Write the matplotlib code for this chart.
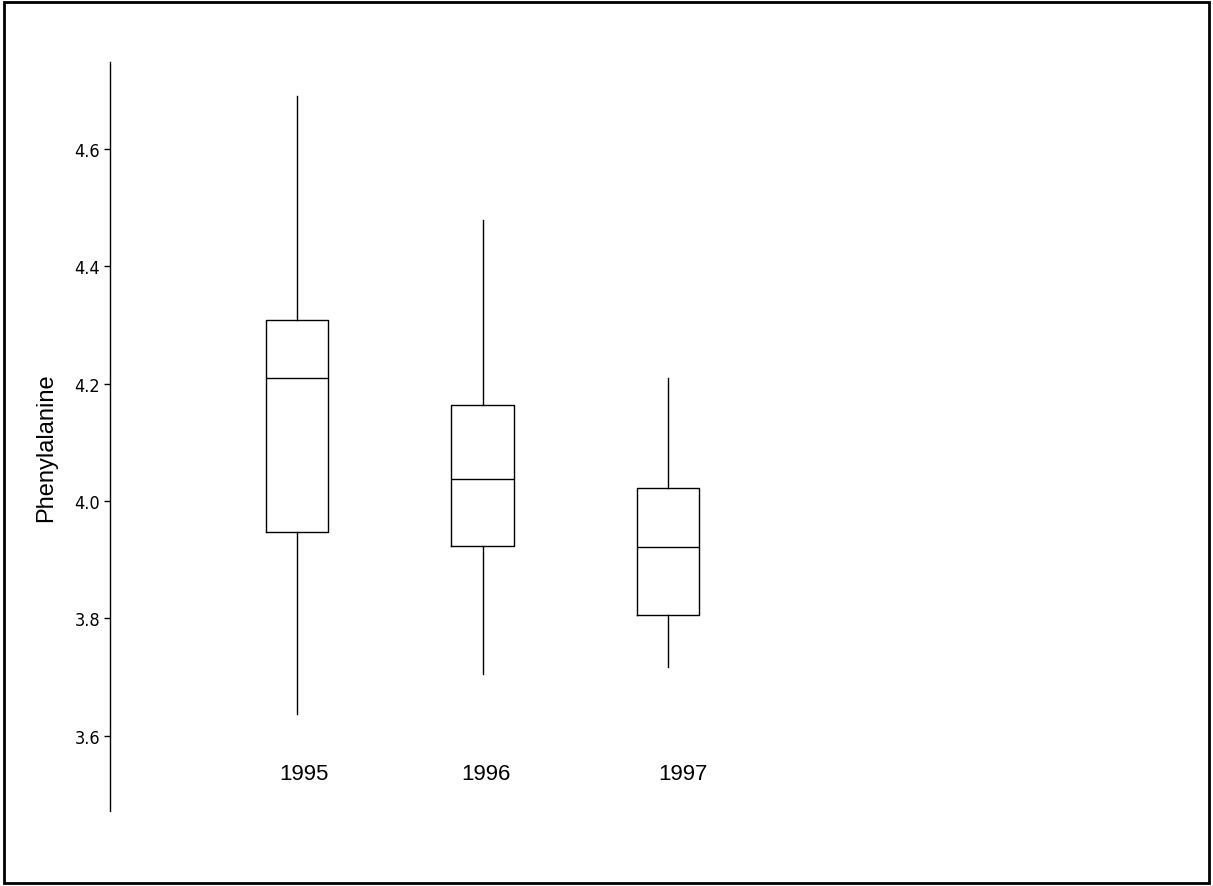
import matplotlib
matplotlib.use("Agg")
import matplotlib.pyplot as plt
from matplotlib.patches import Rectangle

years = ["1995", "1996", "1997"]
whisker_low = [3.638, 3.706, 3.717]
q1 = [3.948, 3.923, 3.805]
median = [4.209, 4.038, 3.921]
q3 = [4.309, 4.164, 4.023]
whisker_high = [4.690, 4.479, 4.210]
y_ticks = [3.6, 3.8, 4.0, 4.2, 4.4, 4.6]
y_tick_labels = ["3.6", "3.8", "4.0", "4.2", "4.4", "4.6"]

fig = plt.figure(figsize=(12.13, 8.87), dpi=100)
ax = fig.add_axes([0.0907, 0.0846, 0.82, 0.8444])

stats = []
for i, yr in enumerate(years):
    stats.append({
        "label": yr,
        "whislo": whisker_low[i],
        "q1": q1[i],
        "med": median[i],
        "q3": q3[i],
        "whishi": whisker_high[i],
        "fliers": [],
    })

positions = [1, 2, 3]
ax.bxp(stats, positions=positions, widths=0.335, showcaps=False, showfliers=False,
       boxprops=dict(color="black", linewidth=1.0),
       whiskerprops=dict(color="black", linewidth=1.0),
       medianprops=dict(color="black", linewidth=1.0))

# year labels sit inside the plot under the boxes
label_shift = [0.04, 0.02, 0.08]
for p, yr, s in zip(positions, years, label_shift):
    ax.text(p + s, 3.535, yr, ha="center", va="center", fontsize=16,
            family=["Liberation Sans", "DejaVu Sans"])

ax.set_xlim(-0.008, 5.354)
ax.set_ylim(3.472, 4.748)
ax.set_xticks([])
ax.set_yticks(y_ticks)
ax.set_yticklabels(y_tick_labels, family=["Liberation Sans Narrow", "DejaVu Sans"],
                   fontstretch="condensed", fontsize=13)
ax.tick_params(axis="y", length=4, width=1, pad=3)
for side in ["top", "right", "bottom"]:
    ax.spines[side].set_visible(False)
ax.spines["left"].set_linewidth(1.0)
ax.set_ylabel("Phenylalanine", fontsize=17, family=["Liberation Sans", "DejaVu Sans"])
ax.yaxis.set_label_coords(-0.053, 0.487)

fig.add_artist(Rectangle((0.003, 0.003), 0.994, 0.994, transform=fig.transFigure,
                         fill=False, edgecolor="black", linewidth=2))

fig.savefig("out.png", dpi=100)
